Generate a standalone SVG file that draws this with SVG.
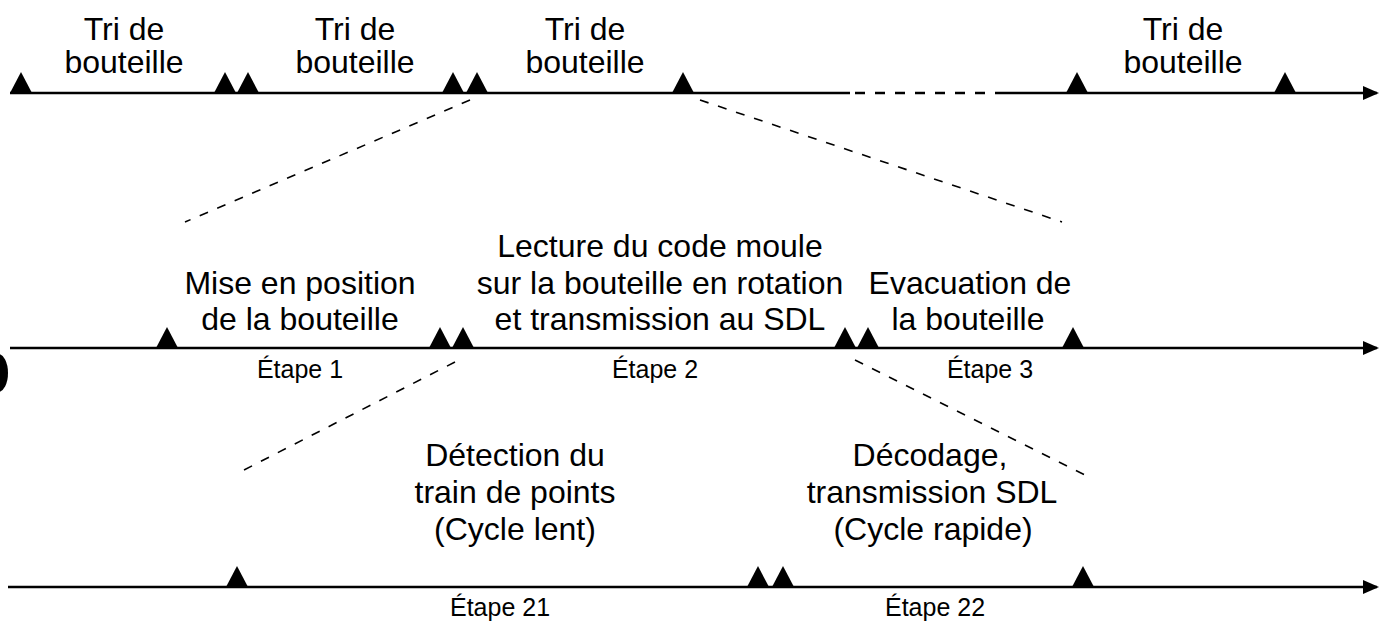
<svg xmlns="http://www.w3.org/2000/svg" width="1383" height="630" viewBox="0 0 1383 630">
<defs>
<style>
.t{font-family:"Liberation Sans",Arial,sans-serif;font-size:32px;fill:#000;text-anchor:middle}
.e{font-family:"Liberation Sans",Arial,sans-serif;font-size:25px;fill:#000;text-anchor:middle}
.ax{stroke:#000;stroke-width:2.5;fill:none}
.dash{stroke:#000;stroke-width:1.6;fill:none;stroke-dasharray:9 10}
.tri{fill:#000}
</style>
<marker id="arr" markerWidth="16" markerHeight="14" refX="14" refY="7" orient="auto" markerUnits="userSpaceOnUse">
<path d="M0,0 L16,7 L0,14 Z" fill="#000"/>
</marker>
<path id="tk" d="M-11,0 L0,-21 L11,0 Z"/>
</defs>
<g id="connectors">
<line class="ax" x1="10" y1="93" x2="850" y2="93"/>
<line class="ax" x1="855" y1="93" x2="1000" y2="93" stroke-dasharray="10 10"/>
<line class="ax" x1="1000" y1="93" x2="1377" y2="93" marker-end="url(#arr)"/>
<line class="ax" x1="10" y1="348" x2="1377" y2="348" marker-end="url(#arr)"/>
<line class="ax" x1="8" y1="587" x2="1377" y2="587" marker-end="url(#arr)"/>
<line class="dash" x1="470" y1="100" x2="185" y2="222"/>
<line class="dash" x1="700" y1="100" x2="1062" y2="222"/>
<line class="dash" x1="455" y1="362" x2="240" y2="472"/>
<line class="dash" x1="855" y1="360" x2="1085" y2="475"/>
</g>
<g id="ticks-top" class="tri">
<use href="#tk" x="21" y="93"/>
<use href="#tk" x="225" y="93"/>
<use href="#tk" x="248" y="93"/>
<use href="#tk" x="453" y="93"/>
<use href="#tk" x="477" y="93"/>
<use href="#tk" x="683" y="93"/>
<use href="#tk" x="1077" y="93"/>
<use href="#tk" x="1285" y="93"/>
</g>
<g id="ticks-mid" class="tri">
<use href="#tk" x="167" y="348"/>
<use href="#tk" x="440" y="348"/>
<use href="#tk" x="463" y="348"/>
<use href="#tk" x="845" y="348"/>
<use href="#tk" x="868" y="348"/>
<use href="#tk" x="1073" y="348"/>
</g>
<g id="ticks-bot" class="tri">
<use href="#tk" x="237" y="587"/>
<use href="#tk" x="758" y="587"/>
<use href="#tk" x="783" y="587"/>
<use href="#tk" x="1083" y="587"/>
</g>
<g id="tri1"><text class="t" x="124" y="40">Tri de</text><text class="t" x="124" y="73">bouteille</text></g>
<g id="tri2"><text class="t" x="355" y="40">Tri de</text><text class="t" x="355" y="73">bouteille</text></g>
<g id="tri3"><text class="t" x="585" y="40">Tri de</text><text class="t" x="585" y="73">bouteille</text></g>
<g id="tri4"><text class="t" x="1183" y="40">Tri de</text><text class="t" x="1183" y="73">bouteille</text></g>
<g id="etape1"><text class="t" x="300" y="294">Mise en position</text><text class="t" x="300" y="330">de la bouteille</text><text class="e" x="300" y="378">Étape 1</text></g>
<g id="etape2"><text class="t" x="660" y="257">Lecture du code moule</text><text class="t" x="660" y="294">sur la bouteille en rotation</text><text class="t" x="660" y="330">et transmission au SDL</text><text class="e" x="655" y="378">Étape 2</text></g>
<g id="etape3"><text class="t" x="970" y="294">Evacuation de</text><text class="t" x="968" y="330">la bouteille</text><text class="e" x="990" y="378">Étape 3</text></g>
<g id="etape21"><text class="t" x="515" y="466">Détection du</text><text class="t" x="515" y="503">train de points</text><text class="t" x="515" y="540">(Cycle lent)</text><text class="e" x="500" y="616">Étape 21</text></g>
<g id="etape22"><text class="t" x="930" y="466">Décodage,</text><text class="t" x="932" y="503">transmission SDL</text><text class="t" x="933" y="540">(Cycle rapide)</text><text class="e" x="935" y="616">Étape 22</text></g>
<ellipse cx="-2" cy="373" rx="10" ry="19" fill="#000"/>
</svg>
